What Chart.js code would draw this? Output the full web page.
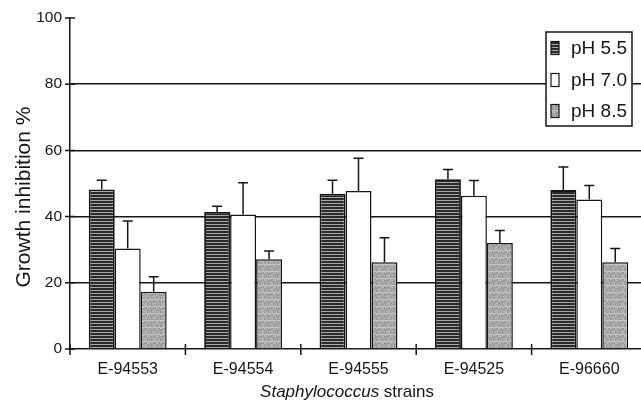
<!DOCTYPE html>
<html>
<head>
<meta charset="utf-8">
<script src="https://cdn.jsdelivr.net/npm/chart.js@4"></script>
<style>
    html, body { margin: 0; padding: 0; background: #fff; overflow: hidden; }
    #wrap { width: 647px; height: 401px; }
</style>
</head>
<body>
<div id="wrap"><canvas id="inhibitionChart" width="647" height="401"></canvas></div>
<script>
const strains = ['E-94553', 'E-94554', 'E-94555', 'E-94525', 'E-96660'];
const ph55 = [48.2, 41.4, 46.9, 51.3, 48.0];
const ph55Err = [2.8, 1.7, 4.1, 2.9, 7.0];
const ph70 = [30.4, 40.6, 47.7, 46.3, 45.2];
const ph70Err = [8.3, 9.6, 9.9, 4.6, 4.2];
const ph85 = [17.3, 27.1, 26.2, 32.0, 26.2];
const ph85Err = [4.5, 2.5, 7.4, 3.8, 4.2];
const yTicks = [0, 20, 40, 60, 80, 100];

const ink = '#161616';
const fontFamily = '"Liberation Sans", Arial, Helvetica, sans-serif';

// fill patterns for the three pH series
function makePattern(w, h, paint) {
    const c = document.createElement('canvas');
    c.width = w;
    c.height = h;
    paint(c.getContext('2d'));
    return document.getElementById('inhibitionChart').getContext('2d').createPattern(c, 'repeat');
}

const stripes = makePattern(4, 3, function(p) {
    p.fillStyle = '#2a2a2a';
    p.fillRect(0, 0, 4, 3);
    p.fillStyle = '#a8a8a8';
    p.fillRect(0, 2, 4, 1);
});

// grainy grey, a fixed hash so the texture is the same every time
const speckle = makePattern(9, 7, function(p) {
    for (let y = 0; y < 7; y++) {
        for (let x = 0; x < 9; x++) {
            const h = ((x * 37 + y * 61 + x * y * 13) % 17) / 16;
            const s = Math.round(145 + h * 50);
            p.fillStyle = 'rgb(' + s + ',' + s + ',' + s + ')';
            p.fillRect(x, y, 1, 1);
        }
    }
});

const errorBars = {
    id: 'errorBars',
    afterDatasetsDraw(chart) {
        const c = chart.ctx;
        const yScale = chart.scales.y;
        c.save();
        c.strokeStyle = ink;
        c.lineWidth = 1.5;
        chart.data.datasets.forEach(function(ds, di) {
            const meta = chart.getDatasetMeta(di);
            meta.data.forEach(function(bar, i) {
                const top = yScale.getPixelForValue(ds.data[i] + ds.errors[i]);
                c.beginPath();
                c.moveTo(bar.x, bar.y);
                c.lineTo(bar.x, top);
                c.moveTo(bar.x - 5, top);
                c.lineTo(bar.x + 5, top);
                c.stroke();
            });
        });
        c.restore();
    }
};

const decorations = {
    id: 'decorations',
    afterDraw(chart) {
        const c = chart.ctx;
        const area = chart.chartArea;
        const xScale = chart.scales.x;
        const yScale = chart.scales.y;
        c.save();
        c.strokeStyle = ink;
        c.lineWidth = 1.5;

        // tick marks crossing the axes
        c.beginPath();
        yTicks.forEach(function(v) {
            const y = yScale.getPixelForValue(v);
            c.moveTo(area.left - 5, y);
            c.lineTo(area.left + 5, y);
        });
        const step = xScale.width / strains.length;
        for (let i = 0; i <= strains.length; i++) {
            const x = xScale.left + i * step;
            c.moveTo(x, area.bottom - 5);
            c.lineTo(x, area.bottom + 6);
        }
        c.stroke();

        // y axis title
        c.fillStyle = ink;
        c.font = '21px ' + fontFamily;
        c.textAlign = 'center';
        c.textBaseline = 'middle';
        c.save();
        c.translate(24, 197);
        c.rotate(-Math.PI / 2);
        c.fillText('Growth inhibition %', 0, 0);
        c.restore();

        // x axis title, genus in italics
        const italicFont = 'italic 17px ' + fontFamily;
        const plainFont = '17px ' + fontFamily;
        const genus = 'Staphylococcus';
        const rest = ' strains';
        c.font = italicFont;
        const w1 = c.measureText(genus).width;
        c.font = plainFont;
        const w2 = c.measureText(rest).width;
        let x0 = 347 - (w1 + w2) / 2;
        c.textAlign = 'left';
        c.textBaseline = 'alphabetic';
        c.font = italicFont;
        c.fillText(genus, x0, 397);
        c.font = plainFont;
        c.fillText(rest, x0 + w1, 397);

        // legend box
        const bx = 546, by = 32, bw = 86, bh = 94;
        c.fillStyle = '#fff';
        c.fillRect(bx, by, bw, bh);
        c.strokeRect(bx, by, bw, bh);
        const rows = [48, 80, 111];
        c.font = '19px ' + fontFamily;
        c.textBaseline = 'middle';
        chart.data.datasets.forEach(function(ds, i) {
            c.fillStyle = ds.backgroundColor;
            c.fillRect(551, rows[i] - 6.5, 8, 13);
            c.lineWidth = 1.2;
            c.strokeRect(551, rows[i] - 6.5, 8, 13);
            c.fillStyle = ink;
            c.fillText(ds.label, 571, rows[i] + 1);
        });
        c.restore();
    }
};

const ctx = document.getElementById('inhibitionChart').getContext('2d');

const chart = new Chart(ctx, {
    type: 'bar',
    data: {
        labels: strains,
        datasets: [
            {
                label: 'pH 5.5',
                data: ph55,
                errors: ph55Err,
                backgroundColor: stripes,
                borderColor: ink,
                borderWidth: 1.8
            },
            {
                label: 'pH 7.0',
                data: ph70,
                errors: ph70Err,
                backgroundColor: '#ffffff',
                borderColor: ink,
                borderWidth: 1.5
            },
            {
                label: 'pH 8.5',
                data: ph85,
                errors: ph85Err,
                backgroundColor: speckle,
                borderColor: ink,
                borderWidth: 1.5
            }
        ]
    },
    options: {
        responsive: false,
        animation: false,
        layout: {
            padding: { top: 18, right: 0, bottom: 0, left: 0 }
        },
        datasets: {
            bar: {
                barPercentage: 1.0,
                categoryPercentage: 0.675
            }
        },
        scales: {
            x: {
                afterFit: function(scale) { scale.height = 52; },
                grid: { display: false, drawTicks: false },
                border: { display: true, color: ink, width: 1.5 },
                ticks: {
                    padding: 11,
                    color: ink,
                    font: { family: fontFamily, size: 16 }
                }
            },
            y: {
                min: 0,
                max: 100,
                afterFit: function(scale) { scale.width = 70; },
                afterBuildTicks: function(scale) {
                    scale.ticks = yTicks.map(v => ({ value: v }));
                },
                grid: {
                    drawTicks: false,
                    lineWidth: 1.5,
                    color: function(c) {
                        return (c.tick && (c.tick.value === 100 || c.tick.value === 0)) ? 'rgba(0,0,0,0)' : ink;
                    }
                },
                border: { display: true, color: ink, width: 1.5 },
                ticks: {
                    padding: 8,
                    color: ink,
                    font: { family: fontFamily, size: 15.5 }
                }
            }
        },
        plugins: {
            legend: { display: false },
            tooltip: { enabled: false }
        }
    },
    plugins: [errorBars, decorations]
});
</script>
</body>
</html>
